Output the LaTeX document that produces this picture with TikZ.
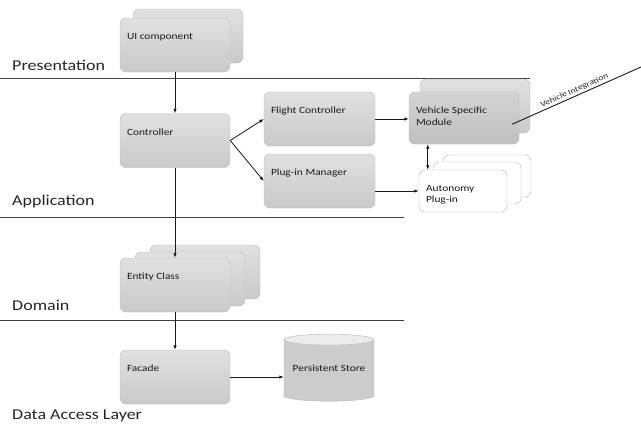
\documentclass[tikz,border=0pt]{standalone}
\usepackage{fontspec}
\setmainfont[FakeStretch=1.2]{Carlito}
\usetikzlibrary{shapes.geometric,calc,arrows.meta,positioning}

\begin{document}
\begin{tikzpicture}[x=1pt, y=-1pt, >={Latex[length=4.5pt,width=3.5pt]},
  card/.style={rounded corners=6pt, draw=gray!55, top color=gray!24, bottom color=gray!42,
    minimum width=110pt, minimum height=54pt, inner sep=0pt},
  darkcard/.style={card, top color=gray!34, bottom color=gray!50},
  ghost/.style={rounded corners=6pt, draw=gray!60, fill=white,
    minimum width=88pt, minimum height=42pt, inner sep=0pt},
  title/.style={label={[anchor=north west, inner sep=0pt, align=left,
    font=\fontsize{9.5}{11.5}\selectfont, text=black!90, xshift=7pt, yshift=-15pt]north west:#1}},
  layer/.style={anchor=base west, inner sep=0pt, font=\fontsize{15}{18}\selectfont, text=black!85},
  db/.style={cylinder, shape border rotate=90, aspect=0.15, draw=gray!55,
    cylinder uses custom fill, cylinder body fill=gray!40, cylinder end fill=gray!16,
    minimum width=90pt, minimum height=67pt, inner sep=0pt,
    font=\fontsize{9.5}{11.5}\selectfont, text=black!90},
  link/.style={->, line width=0.8pt, black!90},
  sep/.style={line width=0.9pt, black!75}]
\path[use as bounding box, fill=white] (0,0) rectangle (641,426);

% layers
\node[layer] (pres) at (12,70) {Presentation};
\node[layer] (app) at (12,205) {Application};
\node[layer] (dom) at (12,310) {Domain};
\node[layer] (dal) at (12,419) {Data Access Layer};
\draw[sep] (0,78) -- (530,78);
\draw[sep] (0,217) -- (404,217);
\draw[sep] (0,320) -- (404,320);

% presentation
\node[card] (ui2) at (188,36) {};
\node[card, title=UI component] (ui) at (175,45) {};

% application
\node[card, title=Controller] (ctrl) at (175,140.5) {};
\node[card, minimum width=111pt, title=Flight Controller] (fc) at (319.5,119) {};
\node[card, minimum width=111pt, title=Plug-in Manager] (pm) at (319.5,181) {};
\node[card] (vsm2) at (475,106) {};
\node[darkcard, minimum height=52pt, title={Vehicle Specific\\Module}] (vsm) at (464,118) {};
\node[ghost] (ap3) at (487,176) {};
\node[ghost] (ap2) at (477,183) {};
\node[ghost, title={Autonomy\\Plug-in}] (ap) at (463,191) {};

% domain
\node[card] (ent3) at (205,272) {};
\node[card] (ent2) at (190,279) {};
\node[card, title=Entity Class] (ent) at (175,285) {};

% data access
\node[card, title=Facade] (fac) at (175,377) {};
\node[db] (store) at (329,370.5) {\raisebox{4pt}{Persistent Store}};

% connectors
\draw[link] (ui.south) -- (ctrl.north);
\draw[link] (ctrl.east) -- (fc.west);
\draw[link] (ctrl.east) -- (pm.west);
\draw[link] (fc.east) -- (fc.east -| vsm.west);
\draw[link] (pm.east |- ap.west) -- (ap.west);
\draw[link, <->] ([xshift=19pt]vsm.south west) -- ([xshift=19pt]vsm.south west |- ap.north);
\draw[link] (ctrl.south) -- (ent.north);
\draw[link] (ent.south) -- (fac.north);
\draw[link] (fac.east) -- (fac.east -| store.west);

\coordinate (vi) at ([xshift=-7pt,yshift=20pt]vsm.south east);
\coordinate (veh) at (641,67);
\draw[line width=0.9pt, black!90] (vi) -- node[midway, sloped, above, inner sep=1.5pt,
  font=\fontsize{8}{9}\selectfont, text=black!85] (vilbl) {Vehicle Integration} (veh);
\end{tikzpicture}
\end{document}
